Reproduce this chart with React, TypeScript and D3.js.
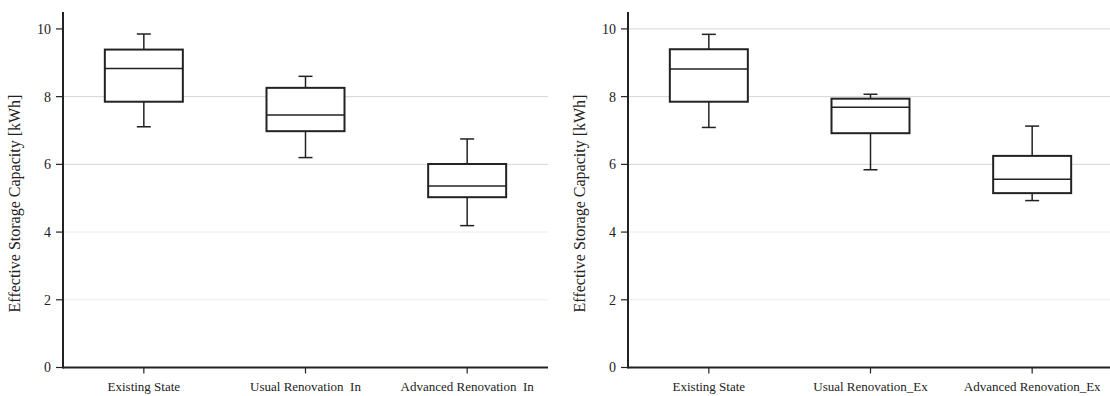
import React from "react";
import * as d3 from "d3";

const categoriesIn = ["Existing State", "Usual Renovation  In", "Advanced Renovation  In"];
const categoriesEx = ["Existing State", "Usual Renovation_Ex", "Advanced Renovation_Ex"];

// [whiskerLow, q1, median, q3, whiskerHigh]
const statsIn = [
  [7.11, 7.85, 8.83, 9.39, 9.85],
  [6.2, 6.98, 7.46, 8.26, 8.6],
  [4.19, 5.03, 5.36, 6.01, 6.75],
];
const statsEx = [
  [7.09, 7.85, 8.82, 9.4, 9.84],
  [5.84, 6.92, 7.69, 7.94, 8.07],
  [4.93, 5.15, 5.56, 6.25, 7.13],
];
const yTicks = [0, 2, 4, 6, 8, 10];
const gridIn = [2, 4, 6, 8];
const gridEx = [2, 4, 6, 8, 10];
const yLabel = "Effective Storage Capacity [kWh]";

const FONT = "'Liberation Serif', 'Times New Roman', serif";
const INK = "#222";

function Panel({ x0, categories, stats, grid }: any) {
  const width = 485;
  const y = d3.scaleLinear().domain([0, 10.5]).range([367.5, 12]);
  const x = d3.scaleBand().domain(categories).range([x0, x0 + width]).paddingInner(0).paddingOuter(0);
  const bw = 78;
  const cap = 14;
  const gridColor = (v: number) => (v >= 6 ? "#d4d4d4" : "#ebebeb");
  return (
    <g>
      {grid.map((v: number) => (
        <line key={"g" + v} x1={x0} x2={x0 + width} y1={y(v)} y2={y(v)} stroke={gridColor(v)} strokeWidth={1} />
      ))}
      {categories.map((c: string, i: number) => {
        const cx = x(c)! + x.bandwidth() / 2;
        const [lo, q1, med, q3, hi] = stats[i];
        return (
          <g key={c} stroke={INK} fill="none">
            <line x1={cx} x2={cx} y1={y(q3)} y2={y(hi)} strokeWidth={1.5} />
            <line x1={cx} x2={cx} y1={y(q1)} y2={y(lo)} strokeWidth={1.5} />
            <line x1={cx - cap / 2} x2={cx + cap / 2} y1={y(hi)} y2={y(hi)} strokeWidth={1.5} />
            <line x1={cx - cap / 2} x2={cx + cap / 2} y1={y(lo)} y2={y(lo)} strokeWidth={1.5} />
            <rect x={cx - bw / 2} y={y(q3)} width={bw} height={y(q1) - y(q3)} fill="white" strokeWidth={2} />
            <line x1={cx - bw / 2} x2={cx + bw / 2} y1={y(med)} y2={y(med)} strokeWidth={1.5} />
            <line x1={cx} x2={cx} y1={y(0)} y2={y(0) + 6} strokeWidth={1.2} />
            <text
              x={cx}
              y={y(0) + 23}
              textAnchor="middle"
              stroke="none"
              fill={INK}
              fontFamily={FONT}
              fontSize={13}
              style={{ whiteSpace: "pre" }}
            >
              {c}
            </text>
          </g>
        );
      })}
      <line x1={x0} x2={x0} y1={12} y2={y(0) + 1} stroke={INK} strokeWidth={2} />
      <line x1={x0} x2={x0 + width} y1={y(0)} y2={y(0)} stroke={INK} strokeWidth={2} />
      {yTicks.map((v) => (
        <g key={"t" + v}>
          <line x1={x0 - 7} x2={x0} y1={y(v)} y2={y(v)} stroke={INK} strokeWidth={1.2} />
          <text
            x={x0 - 12}
            y={y(v)}
            dy="0.35em"
            textAnchor="end"
            fill={INK}
            fontFamily={FONT}
            fontSize={14}
          >
            {v}
          </text>
        </g>
      ))}
      <text
        transform={`translate(${x0 - 43},${(12 + 367) / 2 + 14}) rotate(-90)`}
        textAnchor="middle"
        fill={INK}
        fontFamily={FONT}
        fontSize={16}
      >
        {yLabel}
      </text>
    </g>
  );
}

export default function App() {
  return (
    <svg
      width={1110}
      height={396}
      style={{ position: "absolute", left: 0, top: 0, background: "white" }}
    >
      <rect width={1110} height={396} fill="white" />
      <Panel x0={63} categories={categoriesIn} stats={statsIn} grid={gridIn} />
      <Panel x0={628} categories={categoriesEx} stats={statsEx} grid={gridEx} />
    </svg>
  );
}
